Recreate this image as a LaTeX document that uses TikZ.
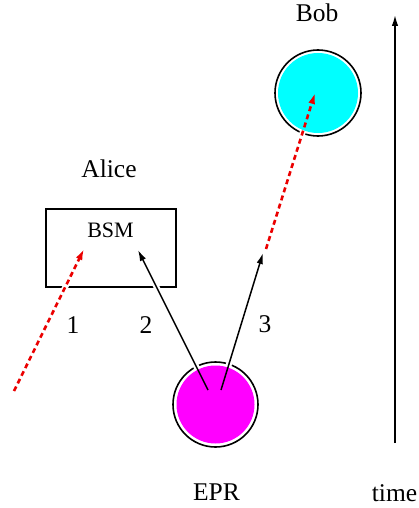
\documentclass[tikz,border=0pt]{standalone}
\usepackage{fontspec}
\setmainfont{Liberation Serif}
\usetikzlibrary{arrows.meta}
\definecolor{eprmag}{RGB}{255,0,255}
\definecolor{bobcyan}{RGB}{0,255,255}
\definecolor{phred}{RGB}{235,0,0}
\begin{document}
\begin{tikzpicture}[x=1pt,y=-1pt,
  lbl/.style={anchor=base,inner sep=0pt,font=\fontsize{25.5}{30}\selectfont},
  ring/.style={circle,draw=black,line width=1.6pt,inner sep=0pt},
  disk/.style={circle,inner sep=0pt},
  halo/.style={draw=white,line width=6pt},
  photon/.style={draw=phred,line width=2.6pt,dash pattern=on 5pt off 3.5pt,-{Latex[length=11pt,width=7pt]}},
  particle/.style={draw=black,line width=1.5pt,-{Latex[length=11pt,width=6.5pt]}}]
\useasboundingbox (0,0) rectangle (419,508);
% box and rings
\node[draw=black,line width=1.5pt,minimum width=130pt,minimum height=78pt,inner sep=0pt] (box) at (111,248) {};
\node[ring,minimum size=85pt] (eprring) at (215.5,404.5) {};
\node[ring,minimum size=86pt] (bobring) at (318,93) {};
% coordinates
\coordinate (s1) at (14,391);
\coordinate (e1) at (84,249);
\coordinate (s2) at (208,390);
\coordinate (e2) at (138,250);
\coordinate (s3) at (221,390);
\coordinate (e3) at (263,253);
\coordinate (s4) at (266,249);
\coordinate (e4) at (315,93);
% halos
\draw[halo] (s1) -- (e1);
\draw[halo] (s2) -- (e2);
\draw[halo] (s3) -- (e3);
\draw[halo] (s4) -- (e4);
% disks
\node[disk,fill=eprmag,minimum size=78pt] (epr) at (215.5,404.5) {};
\node[disk,fill=bobcyan,minimum size=80pt] (bob) at (318,93) {};
% arrows
\draw[photon] (s1) -- (e1);
\draw[particle] (s2) -- (e2);
\draw[particle] (s3) -- (e3);
\draw[photon] (s4) -- (e4);
% time axis
\coordinate (t0) at (395,443);
\coordinate (t1) at (395,15);
\draw[particle] (t0) -- (t1);
% labels
\node[lbl,font=\fontsize{22}{26}\selectfont] (bsm) at (110.5,237) {BSM};
\node[lbl] (alice) at (109,177) {Alice};
\node[lbl] (bobl) at (317,22) {Bob};
\node[lbl] (eprl) at (216.5,500) {EPR};
\node[lbl] (time) at (394.5,501) {time};
\node[lbl] (n1) at (73,333) {1};
\node[lbl] (n2) at (146,333) {2};
\node[lbl] (n3) at (265,332) {3};
\end{tikzpicture}
\end{document}
